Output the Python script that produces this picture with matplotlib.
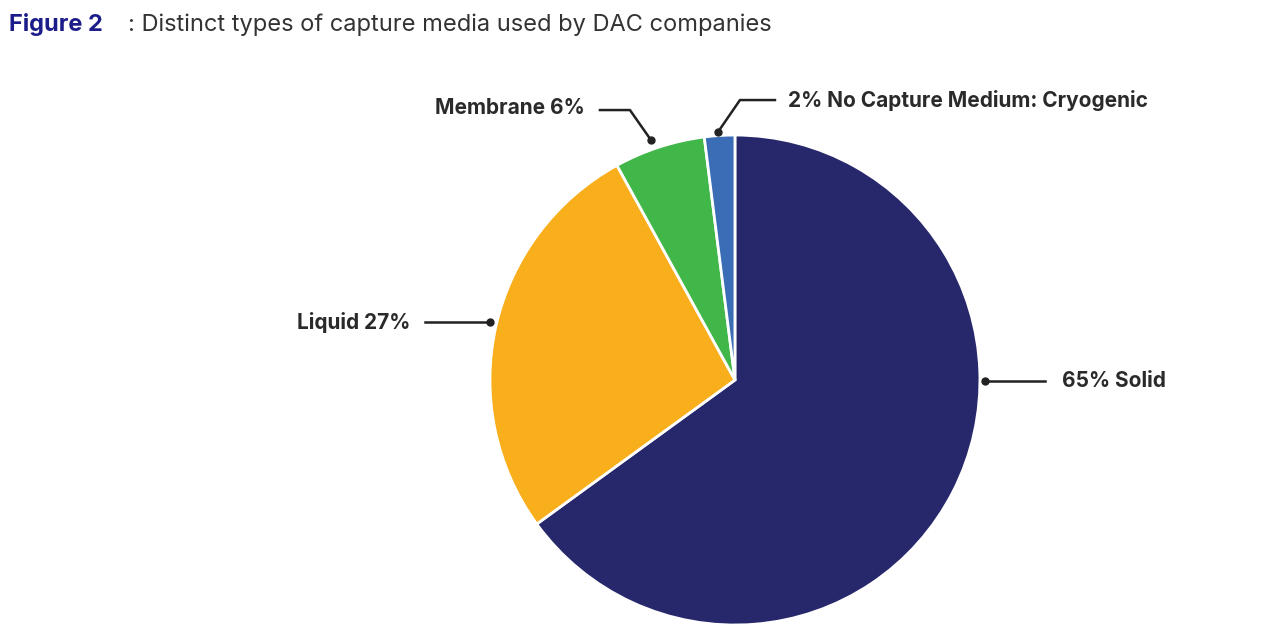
import matplotlib.pyplot as plt

labels = ['Solid', 'Liquid', 'Membrane', 'No Capture Medium: Cryogenic']
shares = [65, 27, 6, 2]
colors = ['#27276b', '#f9ae1b', '#41b649', '#3a6db5']

plt.rcParams['font.family'] = ['Inter', 'DejaVu Sans']

fig = plt.figure(figsize=(12.7, 6.4), dpi=100)
ax = fig.add_axes([0.3858, 0.0234, 0.3858, 0.7656])
ax.pie(shares, colors=colors, startangle=90, counterclock=False, radius=1,
       wedgeprops=dict(edgecolor='white', linewidth=2))
ax.set_xlim(-1, 1)
ax.set_ylim(-1, 1)
ax.set_aspect('equal')
ax.axis('off')


def d(px, py):
    # pixel position in the image -> pie data coords
    return (px - 735) / 245, (380 - py) / 245


# leader lines: list of pixel points, dot at first one
leaders = [
    [(985, 381), (1045, 381)],
    [(490, 322), (425, 322)],
    [(651, 140), (630, 110), (600, 110)],
    [(718, 132), (740, 100), (775, 100)],
]
texts = [
    (f'{shares[0]}% {labels[0]}', 1062, 381, 'left'),
    (f'{labels[1]} {shares[1]}%', 410, 322, 'right'),
    (f'{labels[2]} {shares[2]}%', 585, 108, 'right'),
    (f'{shares[3]}% {labels[3]}', 788, 100, 'left'),
]
for pts, (txt, tx, ty, ha) in zip(leaders, texts):
    xs, ys = zip(*[d(*p) for p in pts])
    ax.plot(xs, ys, color='#222222', lw=1.8, clip_on=False)
    ax.plot(xs[0], ys[0], 'o', color='#222222', ms=5, clip_on=False)
    x, y = d(tx, ty)
    ax.text(x, y, txt, ha=ha, va='center', fontsize=15, fontweight='bold',
            color='#2a2a2a', clip_on=False)

fig.text(0.007, 0.962, 'Figure 2', fontsize=17, fontweight='bold',
         color='#1c1c8a', va='center')
fig.text(0.1005, 0.962, ': Distinct types of capture media used by DAC companies',
         fontsize=17, color='#333333', va='center')

fig.savefig('out.png', dpi=100)
